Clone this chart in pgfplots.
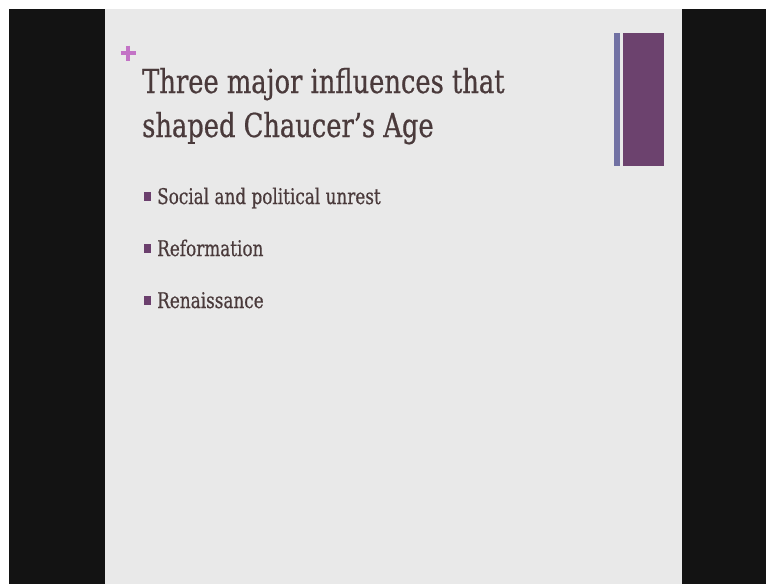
\documentclass[border=0pt]{standalone}
\usepackage{pgfplots}
\pgfplotsset{compat=1.18}
\usepackage{fontspec}
\setmainfont{DejaVu Serif}
\newfontfamily\slab[FakeStretch=0.78,FakeBold=0.6]{DejaVu Serif}
\definecolor{slidebg}{HTML}{E9E9E9}
\definecolor{frame}{HTML}{131313}
\definecolor{txt}{HTML}{4A3A3B}
\definecolor{plus}{HTML}{C373C6}
\definecolor{bul}{HTML}{6B3F6D}
\definecolor{barA}{HTML}{7171A3}
\definecolor{barB}{HTML}{6C426E}
\begin{document}
\begin{tikzpicture}
\begin{axis}[
  scale only axis, width=766pt, height=584pt,
  xmin=0, xmax=766, ymin=0, ymax=584, y dir=reverse,
  axis lines=none, clip=true,
]
% page background (white margin)
\addplot[fill=white, draw=none] coordinates {(0,0) (766,0) (766,584) (0,584)} -- cycle;
% black side areas
\addplot[fill=frame, draw=none] coordinates {(9,9) (105,9) (105,584) (9,584)} -- cycle;
\addplot[fill=frame, draw=none] coordinates {(682,9) (766,9) (766,584) (682,584)} -- cycle;
% slide
\addplot[fill=slidebg, draw=none] coordinates {(105,9) (682,9) (682,584) (105,584)} -- cycle;
% bars
\addplot[fill=barA, draw=none] coordinates {(614,33) (619.5,33) (619.5,166) (614,166)} -- cycle;
\addplot[fill=barB, draw=none] coordinates {(623,33) (663.5,33) (663.5,166) (623,166)} -- cycle;
% bullet squares
\addplot[fill=bul, draw=none] coordinates {(143.5,192) (151,192) (151,201) (143.5,201)} -- cycle;
\addplot[fill=bul, draw=none] coordinates {(143.5,244) (151,244) (151,253) (143.5,253)} -- cycle;
\addplot[fill=bul, draw=none] coordinates {(143.5,296) (151,296) (151,305) (143.5,305)} -- cycle;
% plus sign
\addplot[draw=plus, line width=3.2pt] coordinates {(120.5,53) (135.5,53)};
\addplot[draw=plus, line width=3.2pt] coordinates {(128,45.5) (128,60.5)};
% texts
\node[anchor=base west, inner sep=0pt, text=txt, font=\slab\fontsize{33}{40}\selectfont] at (axis cs:142,93) {Three major influences that};
\node[anchor=base west, inner sep=0pt, text=txt, font=\slab\fontsize{33}{40}\selectfont] at (axis cs:142,137) {shaped Chaucer’s Age};
\node[anchor=base west, inner sep=0pt, text=txt, font=\slab\fontsize{21.6}{26}\selectfont] at (axis cs:157,204) {Social and political unrest};
\node[anchor=base west, inner sep=0pt, text=txt, font=\slab\fontsize{21.6}{26}\selectfont] at (axis cs:157,256) {Reformation};
\node[anchor=base west, inner sep=0pt, text=txt, font=\slab\fontsize{21.6}{26}\selectfont] at (axis cs:157,308) {Renaissance};
\end{axis}
\end{tikzpicture}
\end{document}
